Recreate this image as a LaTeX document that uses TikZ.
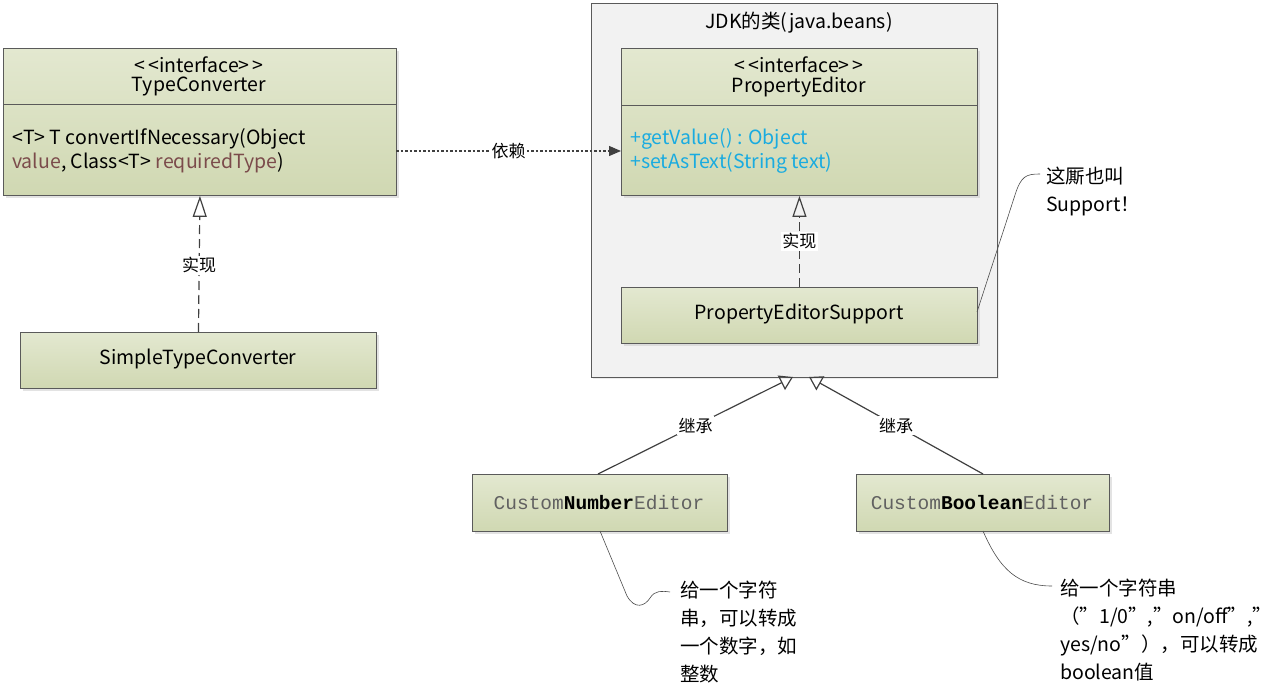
\documentclass[tikz,border=0pt]{standalone}
\usepackage{fontspec}
\setmainfont{Noto Sans CJK SC}
\newfontfamily\monof{Liberation Mono}
\usetikzlibrary{arrows.meta,shadows}
\definecolor{boxtop}{HTML}{E3E8D0}
\definecolor{boxbot}{HTML}{D0D8B2}
\definecolor{boxline}{HTML}{5A5A5A}
\definecolor{pkgfill}{HTML}{F2F2F2}
\definecolor{methcol}{HTML}{19ABE0}
\definecolor{paramcol}{HTML}{7B4B4B}
\definecolor{linecol}{HTML}{404040}
\tikzset{
  umlbox/.style={draw=boxline, line width=0.9pt, top color=boxtop, bottom color=boxbot, inner sep=0pt, anchor=north west,
    drop shadow={shadow xshift=2.5pt, shadow yshift=-2.5pt, fill=black!22}},
  txt/.style={font=\fontsize{19.5}{24}\selectfont, inner sep=0pt},
  lbl/.style={font=\fontsize{17}{19}\selectfont, fill=white, inner sep=1.5pt},
  realize/.style={draw=linecol, line width=1.2pt, dash pattern=on 9pt off 5pt, -{Triangle[open,length=21pt,width=14pt]}},
  inherit/.style={draw=linecol, line width=1.2pt, -{Triangle[open,length=13pt,width=16pt]}},
  depend/.style={draw=linecol, line width=1.1pt, dash pattern=on 2.5pt off 2pt, -{Triangle[length=12pt,width=10pt]}},
  notetxt/.style={font=\fontsize{19.5}{28}\selectfont, inner sep=0pt, anchor=north west, align=left},
  monotxt/.style={font=\monof\fontsize{19.5}{22}\selectfont, inner sep=0pt, text=black!62},
  noteline/.style={draw=black!70, line width=0.6pt}
}
\begin{document}
\begin{tikzpicture}[x=1pt,y=-1pt]
\useasboundingbox (0,0) rectangle (1286,692);
% package
\node[draw=boxline, line width=0.9pt, fill=pkgfill, minimum width=406pt, minimum height=374pt, anchor=north west, inner sep=0pt,
  drop shadow={shadow xshift=2pt, shadow yshift=-2pt, fill=black!15}] (pkg) at (591,3) {};
\node[txt] (pkgtitle) at (799,23) {JDK的类(java.beans)};

% TypeConverter
\node[umlbox, minimum width=393pt, minimum height=147pt] (tc) at (3,48) {};
\draw[boxline, line width=0.9pt] (3,104) -- (396,104);
\node[txt] (tcst) at (199,65) {<\,<interface>\,>};
\node[txt] (tcname) at (199,87) {TypeConverter};
\node[txt, anchor=north west, align=left] (tcm) at (12,128) {<T> T convertIfNecessary(Object\\\textcolor{paramcol}{value}, Class<T> \textcolor{paramcol}{requiredType})};

% SimpleTypeConverter
\node[umlbox, minimum width=356pt, minimum height=56pt] (stc) at (20,332) {};
\node[txt] (stct) at (198,359) {SimpleTypeConverter};

% PropertyEditor
\node[umlbox, minimum width=356pt, minimum height=147pt] (pe) at (621,48) {};
\draw[boxline, line width=0.9pt] (621,105) -- (977,105);
\node[txt] (pest) at (799,65) {<\,<interface>\,>};
\node[txt] (pename) at (799,87) {PropertyEditor};
\node[txt, anchor=north west, align=left, text=methcol] (pem) at (630,128) {+getValue() : Object\\+setAsText(String text)};

% PropertyEditorSupport
\node[umlbox, minimum width=356pt, minimum height=56pt] (pes) at (621,287) {};
\node[txt] (pest2) at (799,314) {PropertyEditorSupport};

% Custom editors
\node[umlbox, minimum width=255pt, minimum height=57pt] (cne) at (472,474) {};
\node[monotxt] (cnet) at (599,503) {Custom\textcolor{black}{\textbf{Number}}Editor};
\node[umlbox, minimum width=253pt, minimum height=57pt] (cbe) at (856,474) {};
\node[monotxt] (cbet) at (982,503) {Custom\textcolor{black}{\textbf{Boolean}}Editor};

% relations
\draw[realize] (stc.north) -- (tc.south) node[lbl, pos=0.49] (l1) {实现};
\draw[realize] (pes.north) -- (pe.south) node[lbl, pos=0.5] (l2) {实现};
\coordinate (dep1) at (396,151);
\coordinate (dep2) at (621,151);
\draw[depend] (dep1) -- (dep2) node[lbl, pos=0.5] (l3) {依赖};
\coordinate (cneTop) at (598,474);
\coordinate (cbeTop) at (983,474);
\coordinate (genA) at (793,377);
\coordinate (genB) at (809,377);
\draw[inherit] (cneTop) -- (genA) node[lbl, pos=0.5] (l4) {继承};
\draw[inherit] (cbeTop) -- (genB) node[lbl, pos=0.5] (l5) {继承};

% notes
\node[notetxt] (n0) at (1046,167) {这厮也叫\\Support！};
\node[notetxt] (n1) at (680,581) {给一个字符\\串，可以转成\\一个数字，如\\整数};
\node[notetxt] (n2) at (1060,579) {给一个字符串\\（”1/0”,”on/off”,”\\yes/no”），可以转成\\boolean值};
\coordinate (a0) at (977,312);
\coordinate (b0) at (1040,174);
\draw[noteline] (a0) -- (1015,195) .. controls (1021,176) and (1026,174) .. (b0);
\coordinate (a1) at (600,531);
\coordinate (b1) at (670,592);
\draw[noteline] (a1) -- (627,596) .. controls (635,610) and (645,606) .. (650,598) .. controls (655,590) and (662,591) .. (b1);
\coordinate (a2) at (983,531);
\coordinate (b2) at (1052,586);
\draw[noteline] (a2) .. controls (1000,570) and (1018,586) .. (b2);
\end{tikzpicture}
\end{document}
